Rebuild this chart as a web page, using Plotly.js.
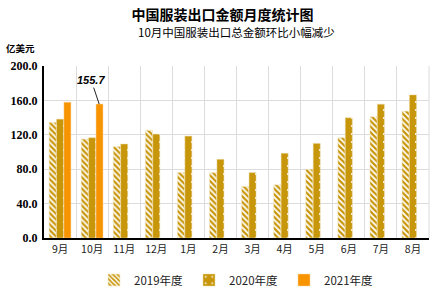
<!DOCTYPE html>
<html><head><meta charset="utf-8">
<script src="https://cdn.plot.ly/plotly-3.0.1.min.js"></script>
<style>html,body{margin:0;padding:0;background:#fff}#chart{width:445px;height:299px}</style>
</head><body><div id="chart"></div>
<script>
const months = ['9月','10月','11月','12月','1月','2月','3月','4月','5月','6月','7月','8月'];
const y2019 = [134.4,115.0,106.2,125.1,76.0,76.0,59.8,61.8,79.9,116.6,140.9,147.5];
const y2020 = [138.2,116.6,109.3,120.8,118.5,91.5,76.0,98.5,110.0,139.8,155.6,166.4];
const y2021 = [157.9,155.7,null,null,null,null,null,null,null,null,null,null];
const seriesNames = ['2019年度','2020年度','2021年度'];
const yTicks = [0,40,80,120,160,200];
const yTickText = ['0.0','40.0','80.0','120.0','160.0','200.0'];

const GOLD = '#C8960A', ORANGE = '#F79400';
const traces = [
  {type:'bar', name:seriesNames[0], x:months, y:y2019,
   marker:{color:'#ffffff', line:{color:'#F0E0B0', width:0.5},
     pattern:{shape:'\\', fgcolor:GOLD, fgopacity:1, size:4, solidity:0.55, fillmode:'overlay'}}},
  {type:'bar', name:seriesNames[1], x:months, y:y2020,
   marker:{color:GOLD, line:{color:'#EBD9A0', width:0.5},
     pattern:{shape:'.', fgcolor:'#ffffff', fgopacity:1, size:8, solidity:0.06, fillmode:'overlay'}}},
  {type:'bar', name:seriesNames[2], x:months, y:y2021,
   marker:{color:ORANGE, line:{color:'#FAD7A0', width:0.5}}}
];

const layout = {
  width:445, height:299,
  margin:{l:44, r:16, t:66, b:61, autoexpand:false},
  paper_bgcolor:'#fff', plot_bgcolor:'#fff',
  barmode:'group', bargap:0.31, bargroupgap:0.05,
  font:{family:'"Noto Sans CJK SC", sans-serif', color:'#222'},
  title:{text:'<b>中国服装出口金额月度统计图</b>', x:0.5, xanchor:'center', y:0.948, yanchor:'middle',
    font:{size:14, color:'#000', family:'"Noto Sans CJK SC", sans-serif'}},
  xaxis:{type:'category', tickson:'boundaries', showgrid:true, gridcolor:'#DCDCDC', gridwidth:1,
    showline:true, linecolor:'#000', linewidth:2, ticks:'', tickfont:{size:10.5, color:'#222'},
    mirror:false, fixedrange:true},
  yaxis:{range:[0,200], tickvals:yTicks, ticktext:yTickText, showgrid:true, gridcolor:'#DCDCDC', gridwidth:1,
    showline:true, linecolor:'#000', linewidth:2, ticks:'', zeroline:false,
    tickfont:{size:12, family:'"Liberation Serif", serif', weight:'bold', color:'#000'}, ticklabelstandoff:2},
  shapes:[{type:'line', xref:'paper', yref:'paper', x0:1, x1:1, y0:0, y1:1, line:{color:'#DCDCDC', width:1}}],
  legend:{orientation:'h', x:0.5, xanchor:'center', y:-0.16, yanchor:'top', font:{size:11.5, color:'#222'},
    itemwidth:30, entrywidth:50, entrywidthmode:'pixels', traceorder:'normal'},
  showlegend:true,
  annotations:[
    {xref:'paper', yref:'paper', x:0.5, y:1.198, xanchor:'center', yanchor:'middle', showarrow:false,
     text:'10月中国服装出口总金额环比小幅减少', font:{size:11.5, color:'#000'}},
    {xref:'paper', yref:'paper', x:-0.105, y:1.105, xanchor:'left', yanchor:'middle', showarrow:false,
     text:'<b>亿美元</b>', font:{size:9.5, color:'#000'}},
    {x:1.22, y:y2021[1], xref:'x', yref:'y', text:'<b><i>155.7</i></b>', showarrow:true, arrowhead:0,
     arrowwidth:1, arrowcolor:'#222', ax:-8, ay:-24, font:{size:11, family:'"Liberation Sans", Arial, sans-serif', color:'#000'}}
  ]
};
Plotly.newPlot('chart', traces, layout, {displayModeBar:false, staticPlot:true});
</script></body></html>
